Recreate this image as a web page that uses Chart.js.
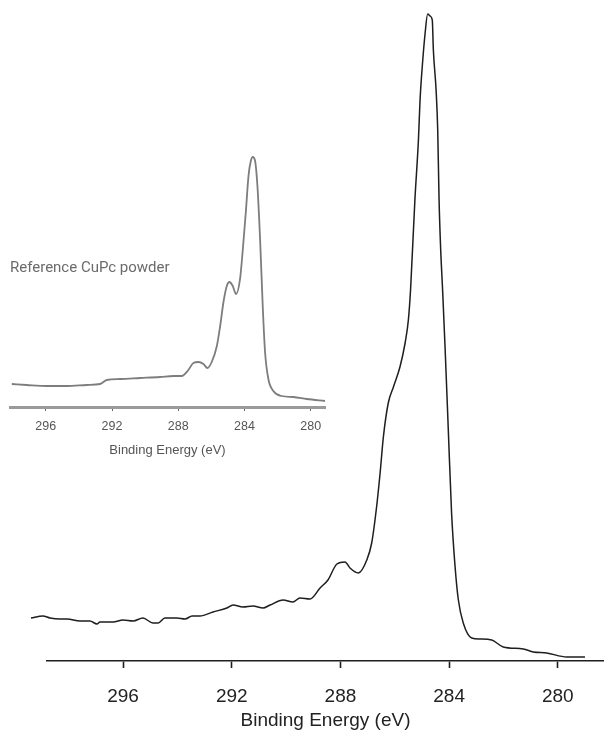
<!DOCTYPE html>
<html>
<head>
<meta charset="utf-8">
<script src="https://cdn.jsdelivr.net/npm/chart.js@4/dist/chart.umd.min.js"></script>
<style>
    body { margin: 0; background: #fff; }
    #wrap { position: relative; width: 604px; height: 736px; }
    #mainChart { position: absolute; left: 0; top: 0; }
    #refChart { position: absolute; left: 0; top: 150px; }
    #refLabel {
        position: absolute; left: 10px; top: 258px;
        font-family: "Liberation Sans Narrow", "Roboto", sans-serif;
        font-size: 15px; color: #6b6b6b; white-space: nowrap;
    }
</style>
</head>
<body>
<div id="wrap">
    <canvas id="mainChart" width="604" height="736"></canvas>
    <canvas id="refChart" width="340" height="312"></canvas>
    <div id="refLabel">Reference CuPc powder</div>
</div>
<script>
// Données : énergie de liaison (eV) et intensité (u.a.)
const energyMain = [299.39, 298.95, 298.69, 298.32, 298.06, 297.59, 297.22, 296.96, 296.85, 296.37,
    296.00, 295.63, 295.27, 294.90, 294.71, 294.46, 294.02, 293.72, 293.46, 293.17,
    292.69, 292.18, 291.95, 291.59, 291.22, 290.85, 290.59, 290.11, 289.75, 289.49,
    289.12, 288.75, 288.46, 288.13, 287.83, 287.65, 287.34, 287.03, 286.85, 286.67,
    286.54, 286.42, 286.24, 286.05, 285.81, 285.62, 285.50, 285.42, 285.26, 285.13,
    285.07, 284.97, 284.89, 284.79, 284.70, 284.62, 284.58, 284.48, 284.42, 284.37,
    284.31, 284.24, 284.15, 284.03, 283.91, 283.78, 283.66, 283.48, 283.17, 282.86,
    282.43, 282.01, 281.27, 280.90, 280.41, 279.67, 279.00];
const countsMain = [43, 45, 43, 42, 42, 40, 40, 37, 39, 39,
    41, 40, 43, 38, 38, 43, 43, 42, 45, 45,
    49, 53, 56, 54, 55, 53, 56, 61, 59, 63,
    62, 73, 81, 97, 99, 93, 88, 101, 118, 154,
    188, 224, 258, 274, 294, 318, 341, 371, 461, 521,
    561, 601, 626, 647, 645, 641, 611, 571, 531, 461,
    411, 371, 314, 231, 148, 94, 61, 38, 23, 22,
    21, 14, 12, 9, 8, 4, 4];

const energyRef = [298.05, 297.15, 295.94, 294.73, 293.52, 292.72, 292.32, 291.51, 290.31, 289.10,
    288.29, 287.79, 287.39, 287.09, 286.78, 286.48, 286.24, 285.98, 285.67, 285.47,
    285.27, 285.07, 284.91, 284.71, 284.51, 284.27, 284.10, 283.92, 283.76, 283.62,
    283.50, 283.36, 283.22, 283.06, 282.90, 282.76, 282.56, 282.26, 281.75, 281.05,
    280.24, 279.13];
const countsRef = [23, 22, 21, 21, 22, 23, 27, 28, 29, 30,
    31, 31, 37, 44, 45, 43, 39, 45, 61, 81,
    105, 121, 125, 121, 113, 128, 158, 195, 231, 246,
    250, 246, 221, 168, 101, 55, 28, 16, 11, 10,
    8, 6];

const tickValues = [296, 292, 288, 284, 280];
const axisTitle = 'Binding Energy (eV)';

function toPoints(xs, ys) {
    return xs.map((x, i) => ({ x: x, y: ys[i] }));
}

// Graphique principal
new Chart(document.getElementById('mainChart').getContext('2d'), {
    type: 'line',
    data: {
        datasets: [{
            data: toPoints(energyMain, countsMain),
            borderColor: '#1e1e1e',
            borderWidth: 1.5,
            pointRadius: 0,
            cubicInterpolationMode: 'monotone',
            clip: false
        }]
    },
    options: {
        responsive: false,
        animation: false,
        layout: { padding: { left: 47, right: 0, top: 0, bottom: 0 } },
        plugins: { legend: { display: false }, tooltip: { enabled: false } },
        scales: {
            x: {
                type: 'linear',
                reverse: true,
                min: 278.3,
                max: 298.8,
                afterBuildTicks: (scale) => { scale.ticks = tickValues.map(v => ({ value: v })); },
                afterFit: (scale) => { scale.height = 75; },
                border: { color: '#1e1e1e', width: 1.6 },
                grid: { drawOnChartArea: false, tickLength: 7, tickColor: '#1e1e1e', tickWidth: 1.6 },
                ticks: { color: '#222', padding: 17, font: { family: 'Liberation Sans', size: 19 } },
                title: { display: true, text: axisTitle, color: '#222', font: { family: 'Liberation Sans', size: 19 } }
            },
            y: { display: false, min: 0, max: 661 }
        }
    }
});

// Encart : poudre CuPc de référence
new Chart(document.getElementById('refChart').getContext('2d'), {
    type: 'line',
    data: {
        datasets: [{
            data: toPoints(energyRef, countsRef),
            borderColor: '#7d7d7d',
            borderWidth: 1.8,
            pointRadius: 0,
            cubicInterpolationMode: 'monotone'
        }]
    },
    options: {
        responsive: false,
        animation: false,
        layout: { padding: { left: 10, right: 15, top: 0, bottom: 0 } },
        plugins: { legend: { display: false }, tooltip: { enabled: false } },
        scales: {
            x: {
                type: 'linear',
                reverse: true,
                min: 279.14,
                max: 298.16,
                afterBuildTicks: (scale) => { scale.ticks = tickValues.map(v => ({ value: v })); },
                afterFit: (scale) => { scale.height = 55; },
                border: { color: '#9a9a9a', width: 3 },
                grid: { drawOnChartArea: false, tickLength: 4, tickColor: '#666', tickWidth: 1 },
                ticks: { color: '#555', padding: 8, font: { family: 'Liberation Sans', size: 12.5 } },
                title: { display: true, text: axisTitle, color: '#555', font: { family: 'Liberation Sans', size: 13 } }
            },
            y: { display: false, min: 0, max: 257 }
        }
    }
});
</script>
</body>
</html>
